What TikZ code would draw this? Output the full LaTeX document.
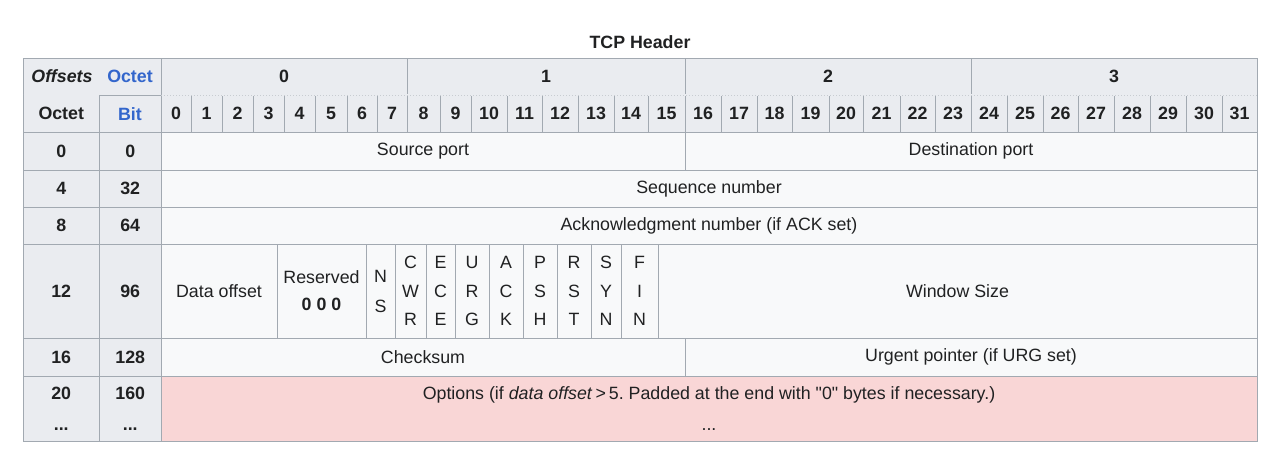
\documentclass[tikz,border=0pt]{standalone}
\usepackage{fontspec}
\setmainfont{Liberation Sans}
\newfontfamily\rawfont{Liberation Sans}
\frenchspacing
\definecolor{hdr}{HTML}{EAECF0}
\definecolor{body}{HTML}{F8F9FA}
\definecolor{bdr}{HTML}{A2A9B1}
\definecolor{faint}{HTML}{C8CCD1}
\definecolor{txt}{HTML}{202122}
\definecolor{lnk}{HTML}{3366CC}
\definecolor{opt}{HTML}{F9D6D6}
\newcommand\tcpcell[7]{%
  \node[#2, minimum width={#5pt-#3pt}, minimum height={#6pt-#4pt}]
    (#1) at ({(#3+#5)/2},{(#4+#6)/2}) {#7};}
\begin{document}
\begin{tikzpicture}[x=1pt,y=-1pt,
  every node/.style={text=txt, font={\fontsize{17.8}{21}\selectfont}},
  cellbase/.style={draw=bdr, line width=1pt, inner sep=0pt, outer sep=0pt},
  hcell/.style={cellbase, fill=hdr, font={\fontsize{17.8}{21}\selectfont\bfseries}},
  bcell/.style={cellbase, fill=body},
  ocell/.style={cellbase, fill=opt, align=center, font={\fontsize{17.8}{31}\selectfont}},
  flag/.style={cellbase, fill=body, align=center, font={\fontsize{17.8}{28.5}\selectfont}},
  lbl/.style={inner sep=0pt, font={\fontsize{17.8}{21}\selectfont\bfseries}},
  sep/.style={faint, line width=1pt, dotted}]
\useasboundingbox (0,0) rectangle (1270,458);
% title
\node[lbl] (title) at (640,42) {TCP Header};
% top-left header
\tcpcell{offs}{hcell}{23}{58}{161}{95}{}
\tcpcell{octL}{hcell}{23}{95}{99.5}{132.5}{Octet}
\tcpcell{bitL}{hcell}{99.5}{95}{161}{132.5}{}
\node[lbl] (offsets) at (62,76.5) {\itshape Offsets};
\node[lbl, text=lnk] (octetH) at (130,76.5) {Octet};
\node[lbl, text=lnk] (bitH) at (130,113.75) {Bit};
\draw[hdr, line width=1.2pt] (23.6,95) -- (99,95);
% byte headers
\tcpcell{by0}{hcell}{161}{58}{407}{95}{0}
\tcpcell{by1}{hcell}{407}{58}{685}{95}{1}
\tcpcell{by2}{hcell}{685}{58}{971}{95}{2}
\tcpcell{by3}{hcell}{971}{58}{1257}{95}{3}
% bit numbers
\foreach \a/\b [count=\i from 0] in {161/191,191/222,222/253,253/284,284/315,315/347,347/377,377/407,407/440,440/471,471/507,507/542,542/578,578/614,614/648,648/685,685/721,721/757,757/792,792/829,829/863,863/900,900/935,935/971,971/1007,1007/1043,1043/1078,1078/1114,1114/1150,1150/1186,1186/1222,1222/1257}{
  \tcpcell{bit\i}{hcell}{\a}{95}{\b}{132.5}{\i}
}
\draw[hdr, line width=1.2pt] (161.6,95) -- (1256.4,95);
\draw[sep] (161,95) -- (1257,95);
% left offset columns
\tcpcell{o0}{hcell}{23}{132.5}{99.5}{170}{0}
\tcpcell{b0}{hcell}{99.5}{132.5}{161}{170}{0}
\tcpcell{o4}{hcell}{23}{170}{99.5}{207}{4}
\tcpcell{b4}{hcell}{99.5}{170}{161}{207}{32}
\tcpcell{o8}{hcell}{23}{207}{99.5}{244}{8}
\tcpcell{b8}{hcell}{99.5}{207}{161}{244}{64}
\tcpcell{o12}{hcell}{23}{244}{99.5}{338}{12}
\tcpcell{b12}{hcell}{99.5}{244}{161}{338}{96}
\tcpcell{o16}{hcell}{23}{338}{99.5}{376}{16}
\tcpcell{b16}{hcell}{99.5}{338}{161}{376}{128}
\tcpcell{o20}{hcell, align=center, font={\fontsize{17.8}{31}\selectfont\bfseries}}{23}{376}{99.5}{441.5}{20\\...}
\tcpcell{b20}{hcell, align=center, font={\fontsize{17.8}{31}\selectfont\bfseries}}{99.5}{376}{161}{441.5}{160\\...}
% body rows
\tcpcell{srcport}{bcell}{161}{132.5}{685}{170}{Source port}
\tcpcell{dstport}{bcell}{685}{132.5}{1257}{170}{Destination port}
\tcpcell{seqnum}{bcell}{161}{170}{1257}{207}{Sequence number}
\tcpcell{acknum}{bcell}{161}{207}{1257}{244}{Acknowledgment number (if ACK set)}
\tcpcell{dataoff}{bcell}{161}{244}{277}{338}{Data offset}
\tcpcell{resv}{flag, font={\fontsize{17.8}{27}\selectfont}}{277}{244}{366}{338}{Reserved\\\textbf{0 0 0}}
\tcpcell{ns}{flag, font={\fontsize{17.8}{30}\selectfont}}{366}{244}{395}{338}{N\\S}
\tcpcell{cwr}{flag}{395}{244}{426}{338}{C\\W\\R}
\tcpcell{ece}{flag}{426}{244}{455}{338}{E\\C\\E}
\tcpcell{urg}{flag}{455}{244}{489}{338}{U\\R\\G}
\tcpcell{ack}{flag}{489}{244}{523}{338}{A\\C\\K}
\tcpcell{psh}{flag}{523}{244}{557}{338}{P\\S\\H}
\tcpcell{rst}{flag}{557}{244}{591}{338}{R\\S\\T}
\tcpcell{syn}{flag}{591}{244}{621}{338}{S\\Y\\N}
\tcpcell{fin}{flag}{621}{244}{658}{338}{F\\I\\N}
\tcpcell{window}{bcell}{658}{244}{1257}{338}{Window Size}
\tcpcell{checksum}{bcell}{161}{338}{685}{376}{Checksum}
\tcpcell{urgptr}{bcell}{685}{338}{1257}{376}{Urgent pointer (if URG set)}
\tcpcell{options}{ocell}{161}{376}{1257}{441.5}{Options (if \textit{data offset}\,>\,5. Padded at the end with {\rawfont"0"} bytes if necessary.)\\...}
\end{tikzpicture}
\end{document}
